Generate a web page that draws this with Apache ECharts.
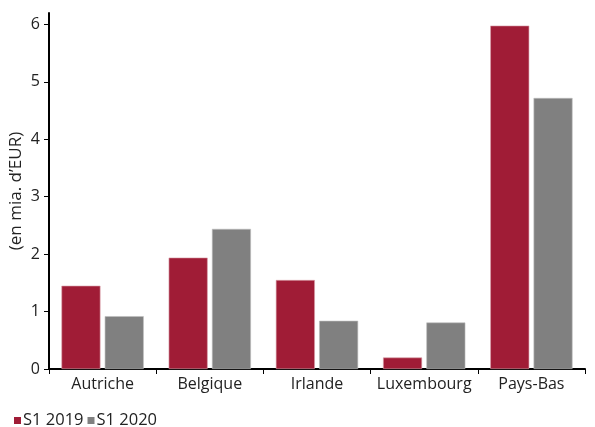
<!DOCTYPE html>
<html><head><meta charset="utf-8">
<script src="https://cdn.jsdelivr.net/npm/echarts@6/dist/echarts.min.js"></script>
<style>html,body{margin:0;padding:0;background:#fff}#c{width:595px;height:427px}</style>
</head><body><div id="c"></div>
<script>
const categories = ['Autriche', 'Belgique', 'Irlande', 'Luxembourg', 'Pays-Bas'];
const s2019 = [1.45, 1.94, 1.55, 0.2, 5.98];
const s2020 = [0.92, 2.44, 0.84, 0.81, 4.72];
const yTicks = [0, 1, 2, 3, 4, 5, 6];
const FONT = 'Open Sans';
const chart = echarts.init(document.getElementById('c'));
chart.setOption({
  animation: false,
  textStyle: { fontFamily: FONT },
  grid: { left: 49, right: 10, top: 13, bottom: 58, outerBoundsMode: 'none', containLabel: false },
  legend: {
    left: 9, top: 407, itemWidth: 7, itemHeight: 7, itemGap: 4,
    icon: 'rect',
    itemStyle: { borderWidth: 0 },
    textStyle: { fontFamily: FONT, fontSize: 16.5, color: '#222', padding: [0, 0, 0, -3] },
    data: ['S1 2019', 'S1 2020']
  },
  xAxis: {
    type: 'category', data: categories,
    axisLine: { lineStyle: { color: '#000', width: 2 } },
    axisTick: { show: true, length: 5, lineStyle: { color: '#000', width: 1 } },
    axisLabel: { interval: 0, fontFamily: FONT, fontSize: 16, color: '#222', margin: 7 }
  },
  yAxis: {
    type: 'value', min: 0, max: 6.2, interval: 1,
    name: "(en mia. d’EUR)", nameLocation: 'middle', nameGap: 24, nameRotate: 90,
    nameMoveOverlap: false,
    nameTextStyle: { fontFamily: FONT, fontSize: 17, color: '#222' },
    splitLine: { show: false },
    axisLine: { show: true, lineStyle: { color: '#000', width: 2 } },
    axisTick: { show: true, length: 5, customValues: yTicks, lineStyle: { color: '#000', width: 1 } },
    axisLabel: { fontFamily: FONT, fontSize: 16, color: '#222', margin: 9, customValues: yTicks }
  },
  series: [
    { name: 'S1 2019', type: 'bar', data: s2019, barWidth: 39, barGap: '11%',
      itemStyle: { color: '#A01C36', borderColor: '#D9A0AA', borderWidth: 0.6 } },
    { name: 'S1 2020', type: 'bar', data: s2020, barWidth: 39,
      itemStyle: { color: '#808080', borderColor: '#BDBDBD', borderWidth: 0.6 } }
  ]
});
</script></body></html>
